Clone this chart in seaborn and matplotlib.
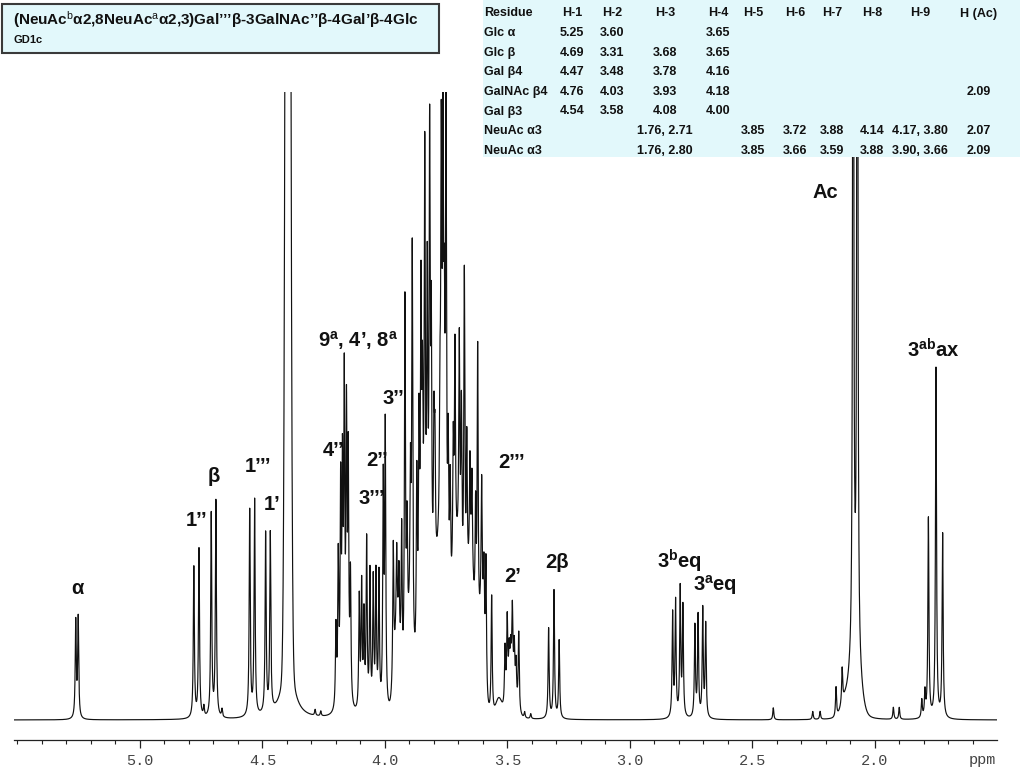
import numpy as np
import pandas as pd
import seaborn as sns
import matplotlib.pyplot as plt
from matplotlib.patches import Rectangle
from matplotlib.ticker import MultipleLocator

# Peak list (ppm, height above baseline in screen units)
anomeric_ppm = [5.262, 5.252, 4.780, 4.759, 4.739, 4.709, 4.690, 4.665,
                4.552, 4.532, 4.487, 4.468, 4.285, 4.262]
anomeric_int = [97, 100, 152, 170, 10, 205, 216, 8,
                206, 216, 181, 178, 6, 5]

ring_ppm = [4.2000, 4.1906, 4.1808, 4.1735, 4.1661, 4.1571, 4.1498, 4.1408,
            4.1049, 4.0951, 4.0857, 4.0747, 4.0612, 4.0478, 4.0367, 4.0245,
            4.0069, 3.9988, 3.9661, 3.9522, 3.9429, 3.9318,
            3.9184, 3.9100, 3.8960, 3.8886, 3.8700, 3.8610, 3.8531, 3.8470,
            3.8375, 3.8273, 3.8176, 3.8110, 3.8000, 3.7960, 3.7755, 3.7702,
            3.7633, 3.7580, 3.7510, 3.7420, 3.7340, 3.7212, 3.7143, 3.6967,
            3.6880, 3.6760, 3.6660, 3.6531, 3.6450, 3.6300, 3.6216, 3.6053,
            3.5960, 3.5878, 3.5645]
ring_int = [80, 146, 209, 218, 309, 275, 236, 126,
            113, 124, 92, 170, 138, 130, 136, 135,
            224, 280, 138, 85, 72, 150,
            380, 120, 150, 400, 180, 200, 300, 180,
            420, 300, 450, 260, 150, 120, 120, 380,
            380, 200, 470, 150, 120, 130, 210, 220,
            170, 330, 150, 110, 100, 120, 300, 130,
            80, 130, 120]

upfield_ppm = [3.510, 3.501, 3.493, 3.487, 3.480, 3.472, 3.465, 3.454,
               3.430, 3.405, 3.332, 3.310, 3.289,
               2.826, 2.814, 2.795, 2.784, 2.735, 2.722, 2.703, 2.691,
               2.415, 2.254, 2.224, 2.159, 2.134,
               1.925, 1.901, 1.809, 1.796, 1.782, 1.751, 1.724]
upfield_int = [57, 77, 34, 31, 74, 45, 37, 80,
               6, 5, 90, 128, 78,
               104, 116, 128, 110, 92, 102, 108, 93,
               12, 8, 8, 30, 35,
               12, 12, 18, 25, 200, 350, 185]

acetyl_ppm = [2.089, 2.072]
acetyl_int = [1400, 1400]

# broad underlying humps (Gaussian) and the HOD tail (Lorentzian)
hump_ppm = [4.396, 3.950, 3.900, 3.840, 3.775, 3.705, 3.650, 3.605, 3.485, 3.535, 2.081, 2.125]
hump_int = [2200, 75, 70, 110, 150, 150, 130, 90, 35, 18, 60, 14]
hump_sigma = [0.0078, 0.012, 0.012, 0.02, 0.025, 0.02, 0.018, 0.01, 0.015, 0.012, 0.02, 0.015]
hod_ppm, hod_int, hod_width = [4.396], [70], [0.025]

tick_values = [5.0, 4.5, 4.0, 3.5, 3.0, 2.5, 2.0]
tick_labels = ['5.0', '4.5', '4.0', '3.5', '3.0', '2.5', '2.0']

labels = ['α', '1’’', 'β', '1’’’', '1’', '9$^{\\mathbf{a}}$, 4’, 8$^{\\mathbf{a}}$', '4’’',
          '3’’’', '2’’', '3’’', '2’’’', '2’', '2β', '3$^{\\mathbf{b}}$eq',
          '3$^{\\mathbf{a}}$eq', 'Ac', '3$^{\\mathbf{ab}}$ax']
label_ppm = [5.257, 4.767, 4.698, 4.518, 4.461, 4.110, 4.208, 4.053, 4.032, 3.967,
             3.482, 3.478, 3.298, 2.800, 2.653, 2.204, 1.763]
label_h = [132, 199, 244, 254, 215, 380, 270, 222, 260, 322, 257, 144, 158, 159, 135, 527, 370]

header = ['Residue', 'H-1', 'H-2', 'H-3', 'H-4', 'H-5', 'H-6', 'H-7', 'H-8', 'H-9', 'H (Ac)']
residues = ['Glc α', 'Glc β', 'Gal β4', 'GalNAc β4', 'Gal β3', 'NeuAc α3', 'NeuAc α3']
h1 = ['5.25', '4.69', '4.47', '4.76', '4.54', '', '']
h2 = ['3.60', '3.31', '3.48', '4.03', '3.58', '', '']
h3 = ['', '3.68', '3.78', '3.93', '4.08', '1.76, 2.71', '1.76, 2.80']
h4 = ['3.65', '3.65', '4.16', '4.18', '4.00', '', '']
h5 = ['', '', '', '', '', '3.85', '3.85']
h6 = ['', '', '', '', '', '3.72', '3.66']
h7 = ['', '', '', '', '', '3.88', '3.59']
h8 = ['', '', '', '', '', '4.14', '3.88']
h9 = ['', '', '', '', '', '4.17, 3.80', '3.90, 3.66']
hac = ['', '', '', '2.09', '', '2.07', '2.09']

sns.set_theme(style='ticks')
plt.rcParams['font.family'] = ['Liberation Sans', 'DejaVu Sans']
plt.rcParams['mathtext.fontset'] = 'custom'
plt.rcParams['mathtext.rm'] = 'Liberation Sans'
plt.rcParams['mathtext.bf'] = 'Liberation Sans:bold'
plt.rcParams['mathtext.it'] = 'Liberation Sans:italic'

# build the trace
ppm = np.linspace(5.52, 1.50, 9000)
spec = np.zeros_like(ppm)
W = 0.0025
for c, h in zip(anomeric_ppm + ring_ppm + upfield_ppm, anomeric_int + ring_int + upfield_int):
    spec += h * W**2 / ((ppm - c)**2 + W**2)
for c, h in zip(acetyl_ppm, acetyl_int):
    spec += h * 0.002**2 / ((ppm - c)**2 + 0.002**2)
for c, h, w in zip(hod_ppm, hod_int, hod_width):
    spec += h * w**2 / ((ppm - c)**2 + w**2)
for c, h, s in zip(hump_ppm, hump_int, hump_sigma):
    spec += h * np.exp(-0.5 * ((ppm - c) / s)**2)
df = pd.DataFrame({'ppm': ppm, 'intensity': spec})

fig = plt.figure(figsize=(10.24, 7.68), dpi=100)
ax = fig.add_axes([14/1024, 28/768, 983/1024, 648/768])
sns.lineplot(data=df, x='ppm', y='intensity', ax=ax, color='#111111', lw=0.85,
             sort=False, estimator=None)
ax.set_xlim(5.514, 1.502)
ax.set_ylim(-20, 628)
ax.set_xlabel('')
ax.set_ylabel('')
ax.set_yticks([])
for s in ['top', 'left', 'right']:
    ax.spines[s].set_visible(False)
ax.spines['bottom'].set_color('#222222')
ax.spines['bottom'].set_linewidth(0.9)
ax.set_xticks(tick_values)
ax.set_xticklabels(tick_labels, family='Liberation Mono', fontsize=11, color='#444444')
ax.xaxis.set_minor_locator(MultipleLocator(0.1))
ax.tick_params(axis='x', which='major', length=6, width=0.9, color='#222222', pad=4, bottom=True)
ax.tick_params(axis='x', which='minor', length=3, width=0.8, color='#222222', bottom=True)
ax.patch.set_alpha(0)

for t, x, y in zip(labels, label_ppm, label_h):
    ax.text(x, y, t, ha='center', va='center', fontsize=14.5, fontweight='bold', color='#111111')

fig.text(969/1024, 1 - 760/768, 'ppm', family='Liberation Mono', fontsize=11,
         color='#444444', va='center', ha='left')

# title box
fig.patches.append(Rectangle((2/1024, 1 - 53/768), 437/1024, 49/768, transform=fig.transFigure,
                             facecolor='#e2f8fb', edgecolor='#3a3a3a', lw=1.5, zorder=2))
fig.text(13/1024, 1 - 20/768,
         '(NeuAc$^{\\mathrm{b}}$α2,8NeuAc$^{\\mathrm{a}}$α2,3)Gal’’’β-3GalNAc’’β-4Gal’β-4Glc',
         fontsize=11, fontweight='bold', va='center', ha='left', zorder=3, color='#111111')
fig.text(13/1024, 1 - 40/768, 'GD1c', fontsize=8, fontweight='bold', va='center',
         ha='left', zorder=3, color='#111111')

# shift table
fig.patches.append(Rectangle((483/1024, 1 - 157/768), 537/1024, 157/768, transform=fig.transFigure,
                             facecolor='#e2f8fb', edgecolor='none', zorder=2))
col_x = [484, 572, 612, 665, 718, 753, 795, 832, 872, 920, 979]
row_y = [13.5 + 19.6 * i for i in range(8)]
columns = [residues, h1, h2, h3, h4, h5, h6, h7, h8, h9, hac]
for j, (name, cx) in enumerate(zip(header, col_x)):
    ha = 'left' if j == 0 else 'center'
    fig.text(cx/1024, 1 - row_y[0]/768, name, fontsize=9, fontweight='bold', ha=ha,
             va='center', zorder=3, color='#111111')
    for i, val in enumerate(columns[j]):
        fig.text(cx/1024, 1 - row_y[i + 1]/768, val, fontsize=9, fontweight='bold', ha=ha,
                 va='center', zorder=3, color='#111111')

fig.savefig('out.png', dpi=100)
